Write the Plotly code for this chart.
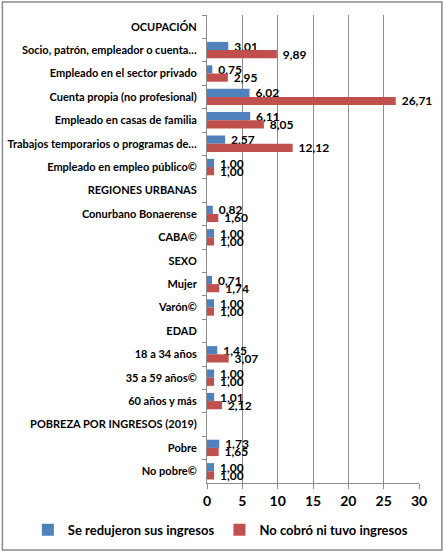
import plotly.graph_objects as go

# Categories (top to bottom) and series values
categories = [
    "OCUPACIÓN",
    "Socio, patrón, empleador o cuenta…",
    "Empleado en el sector privado",
    "Cuenta propia (no profesional)",
    "Empleado en casas de familia",
    "Trabajos temporarios o programas de…",
    "Empleado en empleo público©",
    "REGIONES URBANAS",
    "Conurbano Bonaerense",
    "CABA©",
    "SEXO",
    "Mujer",
    "Varón©",
    "EDAD",
    "18 a 34 años",
    "35 a 59 años©",
    "60 años y más",
    "POBREZA POR INGRESOS (2019)",
    "Pobre",
    "No pobre©",
]
redujeron = [None, 3.01, 0.75, 6.02, 6.11, 2.57, 1.00, None, 0.82, 1.00,
             None, 0.71, 1.00, None, 1.45, 1.00, 1.01, None, 1.73, 1.00]
no_cobro = [None, 9.89, 2.95, 26.71, 8.05, 12.12, 1.00, None, 1.60, 1.00,
            None, 1.74, 1.00, None, 3.07, 1.00, 2.12, None, 1.65, 1.00]
x_ticks = [0, 5, 10, 15, 20, 25, 30]

FONT = "Lato"


def fmt(vals):
    # comma decimals, small lead space like the Excel labels
    return ["" if v is None else "\u00a0" + f"{v:.2f}".replace(".", ",")
            for v in vals]


fig = go.Figure()
for name, vals, color in [("Se redujeron sus ingresos", redujeron, "#4F81BD"),
                          ("No cobró ni tuvo ingresos", no_cobro, "#C0504D")]:
    fig.add_trace(go.Bar(
        y=categories, x=vals, name=name, orientation="h",
        marker=dict(color=color, line=dict(width=0)),
        text=fmt(vals), textposition="outside", cliponaxis=False,
        constraintext="none",
        textfont=dict(family=FONT, size=12, color="black", weight="bold"),
    ))

fig.update_layout(
    width=444, height=553,
    margin=dict(l=207, r=25, t=15, b=70, autoexpand=False),
    paper_bgcolor="white", plot_bgcolor="white",
    barmode="group", bargap=0.3, bargroupgap=0,
    font=dict(family=FONT, color="black"),
    legend=dict(orientation="h", x=-0.845, xanchor="left",
                y=-0.1, yanchor="middle",
                font=dict(family=FONT, size=13, weight="bold"),
                itemwidth=30, traceorder="normal"),
    showlegend=True,
)
fig.update_xaxes(
    range=[0, 30], tickvals=x_ticks, showgrid=True, gridcolor="#8c8c8c",
    gridwidth=1, showline=True, linecolor="#8c8c8c", ticks="outside",
    ticklen=5, tickcolor="#8c8c8c", zeroline=False, automargin=False,
    tickfont=dict(family=FONT, size=14, weight="bold"),
)
fig.update_yaxes(
    type="category", categoryorder="array", categoryarray=categories,
    autorange="reversed", showline=True, linecolor="#8c8c8c",
    ticks="outside", tickson="boundaries", ticklen=4, tickcolor="#8c8c8c",
    tickfont=dict(family=FONT, size=11, weight="bold"), ticklabelstandoff=7,
    automargin=False,
)

# Outer chart border
fig.add_shape(type="rect", xref="paper", yref="paper",
              x0=-0.965, x1=1.108, y0=-0.143, y1=1.028,
              line=dict(color="#8c8c8c", width=1.5), layer="below")

fig.write_html("out.html", config={"displayModeBar": False},
               post_script="document.body.style.margin='0';")
